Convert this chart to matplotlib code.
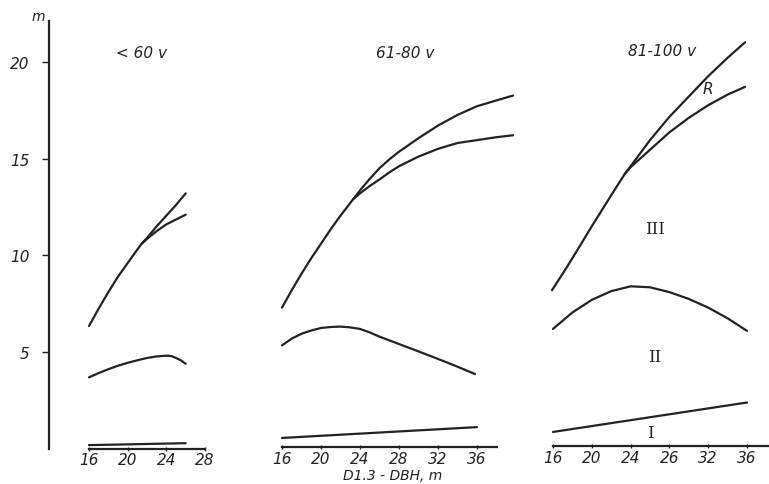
import matplotlib
matplotlib.use("Agg")
import matplotlib.pyplot as plt

# ---------------- data ----------------
panel_titles = ["< 60 v", "61-80 v", "81-100 v"]

# panel 1 (< 60 v)
p1_x_top = [16, 17, 18, 19, 20, 21, 21.45, 22, 23, 24, 25, 26]
p1_y_top = [6.35, 7.25, 8.1, 8.9, 9.6, 10.3, 10.6, 10.9, 11.5, 12.05, 12.6, 13.2]
p1_x_low = [21.45, 22, 23, 24, 25, 26]
p1_y_low = [10.6, 10.85, 11.25, 11.6, 11.85, 12.1]
p1_x_mid = [16, 17, 18, 19, 20, 21, 22, 23, 24, 24.5, 25, 25.5, 26]
p1_y_mid = [3.7, 3.92, 4.12, 4.3, 4.45, 4.58, 4.7, 4.78, 4.82, 4.8, 4.7, 4.58, 4.4]
p1_x_bot = [16, 26]
p1_y_bot = [0.2, 0.3]
p1_ticks = [16, 20, 24, 28]
p1_ticklabels = ["16", "20", "24", "28"]

# panel 2 (61-80 v)
p2_x_top = [16, 17, 18, 19, 20, 21, 22, 23.3, 24, 25, 26, 27, 28, 30, 32, 34, 36, 38, 39.7]
p2_y_top = [7.3, 8.2, 9.05, 9.85, 10.6, 11.35, 12.05, 12.9, 13.35, 13.95, 14.5, 14.95, 15.35,
            16.05, 16.7, 17.25, 17.7, 18.0, 18.25]
p2_x_low = [23.3, 24, 25, 26, 27, 28, 30, 32, 34, 36, 38, 39.7]
p2_y_low = [12.9, 13.2, 13.58, 13.92, 14.28, 14.6, 15.1, 15.5, 15.8, 15.95, 16.1, 16.2]
p2_x_mid = [16, 17, 18, 19, 20, 21, 22, 23, 24, 25, 26, 28, 30, 32, 34, 35.8]
p2_y_mid = [5.35, 5.7, 5.95, 6.12, 6.25, 6.3, 6.32, 6.28, 6.2, 6.02, 5.8, 5.42, 5.04, 4.65,
            4.25, 3.87]
p2_x_bot = [16, 36]
p2_y_bot = [0.57, 1.13]
p2_ticks = [16, 20, 24, 28, 32, 36]
p2_ticklabels = ["16", "20", "24", "28", "32", "36"]

# panel 3 (81-100 v)
p3_x_top = [15.9, 17, 18, 20, 22, 23.4, 24, 26, 28, 30, 32, 34, 35.8]
p3_y_top = [8.2, 9.05, 9.85, 11.5, 13.1, 14.2, 14.6, 15.95, 17.15, 18.2, 19.25, 20.2, 21.0]
p3_x_low = [23.4, 24, 26, 28, 30, 32, 34, 35.8]
p3_y_low = [14.2, 14.55, 15.45, 16.35, 17.1, 17.75, 18.3, 18.7]
p3_x_mid = [16, 18, 20, 22, 24, 26, 28, 30, 32, 34, 36]
p3_y_mid = [6.2, 7.05, 7.7, 8.15, 8.4, 8.35, 8.1, 7.75, 7.3, 6.75, 6.1]
p3_x_bot = [16, 36]
p3_y_bot = [0.88, 2.4]
p3_ticks = [16, 20, 24, 28, 32, 36]
p3_ticklabels = ["16", "20", "24", "26", "32", "36"]

y_ticks = [5, 10, 15, 20]
y_ticklabels = ["5", "10", "15", "20"]

# ---------------- figure ----------------
W, H = 769, 485
fig = plt.figure(figsize=(W / 100, H / 100), dpi=100)
fig.patch.set_facecolor("white")

INK = "#222222"
LW = 1.6
FS = 11
fstyle = dict(style="italic", family="DejaVu Sans", color=INK)

y0_px, y1_px = 450, 22
ylim = (0, 22.1)
bottom = (H - y0_px) / H
height = (y0_px - y1_px) / H


def make_axes(left_px, right_px, xlim, ticks, labels, show_y=False, spine_y=0.0):
    ax = fig.add_axes([left_px / W, bottom, (right_px - left_px) / W, height])
    ax.set_xlim(*xlim)
    ax.set_ylim(*ylim)
    ax.patch.set_alpha(0)
    for s in ["top", "right"]:
        ax.spines[s].set_visible(False)
    ax.spines["bottom"].set_position(("data", spine_y))
    ax.spines["bottom"].set_linewidth(LW)
    ax.spines["bottom"].set_color(INK)
    ax.set_xticks(ticks)
    ax.set_xticklabels(labels, fontsize=FS, **fstyle)
    ax.tick_params(axis="x", direction="inout", length=3, width=1, color=INK, pad=1)
    if show_y:
        ax.spines["left"].set_linewidth(LW)
        ax.spines["left"].set_color(INK)
        ax.set_yticks(y_ticks)
        ax.set_yticklabels(y_ticklabels, fontsize=FS, **fstyle)
        ax.tick_params(axis="y", direction="out", length=5, width=1, color=INK, pad=9)
    else:
        ax.spines["left"].set_visible(False)
        ax.set_yticks([])
    return ax


# panel 1: y-axis at px 49, x=16 at px 89, 9.67 px/unit
ax1 = make_axes(49, 206, (16 - 40 / 9.67, 28.1), p1_ticks, p1_ticklabels, show_y=True)
ax1.spines["bottom"].set_bounds(16, 28)
# panel 2: x=16 at px 282, 9.75 px/unit
ax2 = make_axes(282, 282 + 24 * 9.75, (16, 40), p2_ticks, p2_ticklabels, spine_y=0.1)
ax2.spines["bottom"].set_bounds(16, 38)
# panel 3: x=16 at px 553, 9.7 px/unit
ax3 = make_axes(553 - 1, 769, (15.9, 16 + (769 - 553) / 9.7), p3_ticks, p3_ticklabels, spine_y=0.15)
ax3.spines["bottom"].set_bounds(16, 38.2)

for ax, series in [
    (ax1, [(p1_x_top, p1_y_top), (p1_x_low, p1_y_low), (p1_x_mid, p1_y_mid), (p1_x_bot, p1_y_bot)]),
    (ax2, [(p2_x_top, p2_y_top), (p2_x_low, p2_y_low), (p2_x_mid, p2_y_mid), (p2_x_bot, p2_y_bot)]),
    (ax3, [(p3_x_top, p3_y_top), (p3_x_low, p3_y_low), (p3_x_mid, p3_y_mid), (p3_x_bot, p3_y_bot)]),
]:
    for xs, ys in series:
        ax.plot(xs, ys, color=INK, lw=LW, solid_capstyle="round", solid_joinstyle="round",
                clip_on=False)


def ftext(xp, yp, s, **kw):
    fig.text(xp / W, 1 - yp / H, s, ha="center", va="center", **kw)


ftext(38, 17, "m", fontsize=FS - 1, **fstyle)
ftext(142, 53, panel_titles[0], fontsize=FS, **fstyle)
ftext(405, 53, panel_titles[1], fontsize=FS, **fstyle)
ftext(662, 52, panel_titles[2], fontsize=FS, **fstyle)
ftext(708, 90, "R", fontsize=FS, **fstyle)
ftext(655, 230, "III", fontsize=FS + 1, family="DejaVu Serif", color=INK)
ftext(655, 358, "II", fontsize=FS + 1, family="DejaVu Serif", color=INK)
ftext(650, 433, "I", fontsize=FS + 1, family="DejaVu Serif", color=INK)
ftext(393, 476, "D1.3 - DBH, m", fontsize=FS - 1, **fstyle)

fig.savefig("out.png", dpi=100, facecolor="white")
